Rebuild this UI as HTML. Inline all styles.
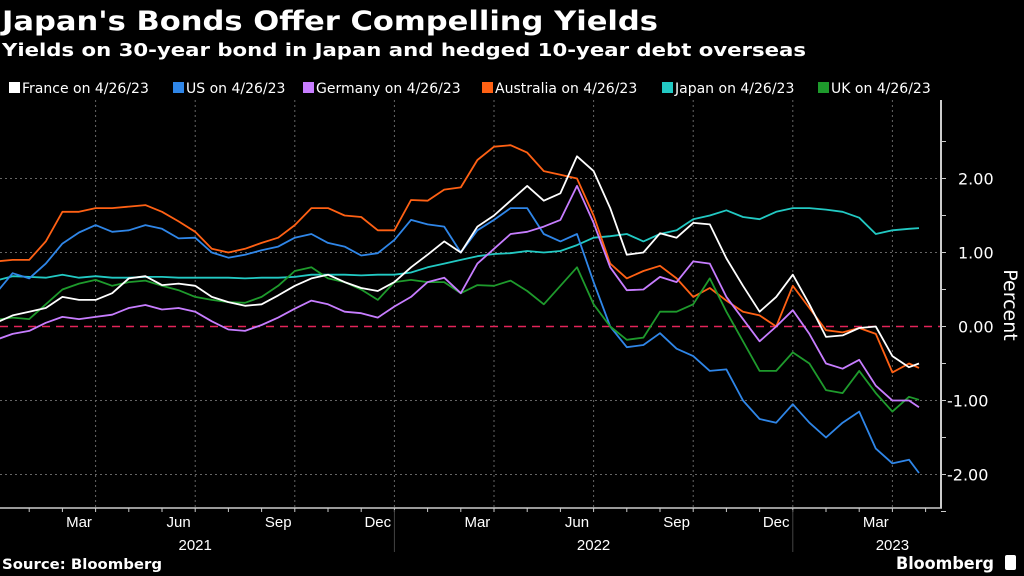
<!DOCTYPE html>
<html><head><meta charset="utf-8"><style>
html,body{margin:0;padding:0;background:#000;width:1024px;height:576px;overflow:hidden}
svg{display:block}
</style></head><body>
<svg id="chart" width="1024" height="576" viewBox="0 0 1024 576" xmlns="http://www.w3.org/2000/svg" font-family="'DejaVu Sans', 'Liberation Sans', sans-serif">
<rect width="1024" height="576" fill="#000"/>
<text x="2" y="30" fill="#fff" font-weight="bold" font-size="27" textLength="656" lengthAdjust="spacingAndGlyphs">Japan's Bonds Offer Compelling Yields</text>
<text x="2" y="56" fill="#fff" font-weight="bold" font-size="18" textLength="804" lengthAdjust="spacingAndGlyphs">Yields on 30-year bond in Japan and hedged 10-year debt overseas</text>
<g id="legend"></g>
<g id="grid"></g>
<g id="series"></g>
<g id="axes"></g>
<text x="2" y="569" fill="#fff" font-weight="bold" font-size="14" textLength="160" lengthAdjust="spacingAndGlyphs">Source: Bloomberg</text>
<text x="896" y="569" fill="#fff" font-weight="bold" font-size="17" textLength="98" lengthAdjust="spacingAndGlyphs">Bloomberg</text>
<rect x="1005" y="555" width="11" height="15" rx="2" fill="#fff"/>
</svg>
<script>
// months since Jan 1 2021, half-month steps
const dates = [0,0.5,1,1.5,2,2.5,3,3.5,4,4.5,5,5.5,6,6.5,7,7.5,8,8.5,9,9.5,10,10.5,11,11.5,12,12.5,13,13.5,14,14.5,15,15.5,16,16.5,17,17.5,18,18.5,19,19.5,20,20.5,21,21.5,22,22.5,23,23.5,24,24.5,25,25.5,26,26.5,27,27.5,27.8];
const france = [0.05,0.15,0.2,0.25,0.4,0.36,0.36,0.45,0.65,0.68,0.56,0.58,0.55,0.4,0.33,0.28,0.3,0.42,0.55,0.65,0.7,0.6,0.52,0.48,0.6,0.8,0.97,1.15,1.0,1.35,1.5,1.7,1.9,1.7,1.8,2.3,2.1,1.6,0.97,1.0,1.26,1.2,1.4,1.38,0.92,0.55,0.2,0.4,0.7,0.3,-0.14,-0.12,-0.02,0.0,-0.4,-0.55,-0.5];
const us = [0.45,0.72,0.65,0.85,1.12,1.27,1.37,1.28,1.3,1.37,1.32,1.19,1.2,1.0,0.93,0.97,1.03,1.08,1.2,1.25,1.13,1.08,0.96,0.99,1.17,1.44,1.38,1.35,1.0,1.3,1.44,1.6,1.6,1.25,1.15,1.25,0.6,0.0,-0.28,-0.25,-0.09,-0.3,-0.4,-0.6,-0.58,-1.0,-1.25,-1.3,-1.05,-1.3,-1.5,-1.3,-1.15,-1.65,-1.85,-1.8,-1.98];
const germany = [-0.18,-0.1,-0.06,0.05,0.13,0.1,0.13,0.16,0.25,0.29,0.23,0.25,0.2,0.07,-0.04,-0.06,0.02,0.12,0.24,0.35,0.3,0.2,0.18,0.12,0.27,0.4,0.6,0.66,0.45,0.85,1.05,1.25,1.28,1.35,1.44,1.9,1.4,0.8,0.49,0.5,0.67,0.6,0.88,0.85,0.4,0.1,-0.2,0.0,0.22,-0.1,-0.5,-0.57,-0.45,-0.8,-1.0,-1.0,-1.09];
const australia = [0.88,0.9,0.9,1.15,1.55,1.55,1.6,1.6,1.62,1.64,1.55,1.42,1.28,1.05,1.0,1.05,1.13,1.2,1.37,1.6,1.6,1.5,1.48,1.3,1.3,1.71,1.7,1.85,1.88,2.25,2.43,2.45,2.35,2.1,2.05,2.0,1.5,0.85,0.65,0.75,0.82,0.65,0.4,0.52,0.35,0.2,0.15,0.0,0.55,0.25,-0.05,-0.08,-0.02,-0.1,-0.62,-0.5,-0.56];
const japan = [0.62,0.68,0.67,0.66,0.7,0.66,0.68,0.66,0.66,0.67,0.67,0.66,0.66,0.66,0.66,0.65,0.66,0.66,0.67,0.7,0.7,0.7,0.69,0.7,0.7,0.73,0.8,0.85,0.9,0.95,0.98,0.99,1.02,1.0,1.02,1.1,1.2,1.22,1.25,1.15,1.25,1.3,1.45,1.5,1.57,1.48,1.45,1.55,1.6,1.6,1.58,1.55,1.47,1.25,1.3,1.32,1.33];
const uk = [0.09,0.12,0.1,0.3,0.5,0.58,0.63,0.55,0.6,0.62,0.55,0.49,0.4,0.36,0.33,0.32,0.4,0.55,0.75,0.8,0.65,0.6,0.5,0.36,0.6,0.63,0.6,0.6,0.45,0.56,0.55,0.62,0.48,0.3,0.55,0.8,0.3,0.0,-0.18,-0.15,0.2,0.2,0.3,0.65,0.2,-0.2,-0.6,-0.6,-0.35,-0.5,-0.86,-0.9,-0.6,-0.9,-1.15,-0.95,-0.99];
const yTicks = [2,1,0,-1,-2];
const yTickLabels = ["2.00","1.00","0.00","-1.00","-2.00"];
const monthLabels = ["Mar","Jun","Sep","Dec","Mar","Jun","Sep","Dec","Mar"];
const monthLabelPos = [2.5,5.5,8.5,11.5,14.5,17.5,20.5,23.5,26.5];
const yearLabels = ["2021","2022","2023"];
const yearLabelPos = [6,18,27];
const legendLabels = ["France on 4/26/23","US on 4/26/23","Germany on 4/26/23","Australia on 4/26/23","Japan on 4/26/23","UK on 4/26/23"];

const NS="http://www.w3.org/2000/svg";
const xS = m => -4 + 33.2*m;
const yS = v => 326.5 - 74*v;
function mk(tag, attrs, parent){const e=document.createElementNS(NS,tag);for(const k in attrs)e.setAttribute(k,attrs[k]);parent.appendChild(e);return e;}
const grid=document.getElementById('grid'), ser=document.getElementById('series'), ax=document.getElementById('axes'), leg=document.getElementById('legend');

// horizontal grid
yTicks.forEach(v=>{
  if(v===0) return;
  const l=mk('line',{x1:0,x2:941,y1:yS(v),y2:yS(v),stroke:'#666','stroke-width':1,'stroke-dasharray':'2,3'},grid);
  
  
});
// vertical grid at quarters
for(let m=3;m<=27;m+=3){
  const l=mk('line',{x1:xS(m),x2:xS(m),y1:100,y2:508,stroke:'#666','stroke-width':1,'stroke-dasharray':'2,3'},grid);
  
  
}
const zl=mk('line',{x1:0,x2:941,y1:yS(0),y2:yS(0),stroke:'#e3245a','stroke-width':1.6,'stroke-dasharray':'8,6'},grid);



const series=[[france,'#ffffff','france-line'],[us,'#2f86e8','us-line'],[germany,'#c77dff','germany-line'],[australia,'#ff6114','australia-line'],[japan,'#22c9c3','japan-line'],[uk,'#1e9a2c','uk-line']];
// draw order: japan behind
[4,3,1,5,2,0].forEach(i=>{
  const [vals,col,name]=series[i];
  const d=vals.map((v,j)=>(j?'L':'M')+xS(dates[j]).toFixed(1)+','+yS(v).toFixed(1)).join(' ');
  const p=mk('path',{d:d,fill:'none',stroke:col,'stroke-width':1.8,'stroke-linejoin':'round'},ser);
  
  
});

// legend
const legX=[9,173,303,482,662,818];
legendLabels.forEach((t,i)=>{
  const r=mk('rect',{x:legX[i],y:82,width:11,height:11,fill:series[i][1]},leg);
  
  
  const tx=mk('text',{x:legX[i]+13,y:93,fill:'#fff','font-size':14},leg);
  tx.textContent=t;
  
  
});

// axes
const ya=mk('line',{x1:941,x2:941,y1:100,y2:508,stroke:'#ccc','stroke-width':2},ax);


for(let v=-2.5;v<=2.5;v+=0.5){
  const t=mk('line',{x1:941,x2:946,y1:yS(v),y2:yS(v),stroke:'#ccc','stroke-width':1},ax);
  
  
}
yTicks.forEach((v,i)=>{
  const t=mk('text',{x:v<0?947:958,y:yS(v)+6,fill:'#fff','font-size':16},ax);
  t.textContent=yTickLabels[i];
  
  
});
const pt=mk('text',{x:1004,y:305,fill:'#fff','font-size':19,transform:'rotate(90 1004 305)','text-anchor':'middle'},ax);
pt.textContent='Percent';


const xa=mk('line',{x1:0,x2:942,y1:508,y2:508,stroke:'#ccc','stroke-width':1.5},ax);


for(let m=0;m<=28;m++){
  const t=mk('line',{x1:xS(m),x2:xS(m),y1:508,y2:512,stroke:'#ccc','stroke-width':1},ax);
  
  
}
[12,24].forEach(m=>{
  const s=mk('line',{x1:xS(m),x2:xS(m),y1:510,y2:552,stroke:'#444','stroke-width':1},ax);
  
  
});
monthLabels.forEach((t,i)=>{
  const e=mk('text',{x:xS(monthLabelPos[i]),y:527,fill:'#fff','font-size':15,'text-anchor':'middle','font-family':"'Liberation Sans Narrow','Liberation Sans',sans-serif"},ax);
  e.textContent=t;
  
  
});
yearLabels.forEach((t,i)=>{
  const e=mk('text',{x:xS(yearLabelPos[i]),y:550,fill:'#fff','font-size':15,'text-anchor':'middle','font-family':"'Liberation Sans Narrow','Liberation Sans',sans-serif"},ax);
  e.textContent=t;
  
  
});
</script>
</body></html>
